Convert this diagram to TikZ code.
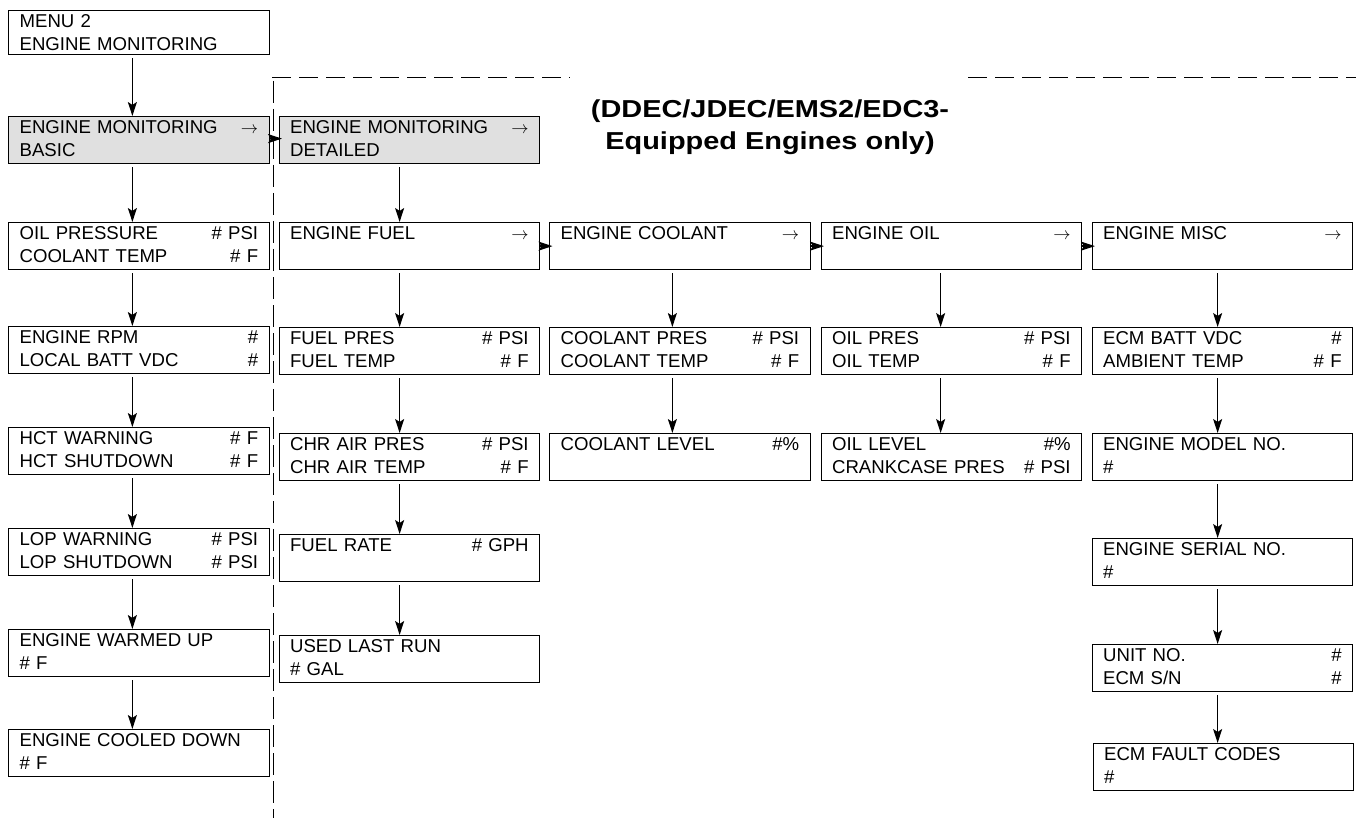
\documentclass[tikz,border=0pt]{standalone}
\usepackage{fontspec}
\setmainfont{Liberation Sans}
\newfontfamily\titlefont{Liberation Sans}[FakeStretch=1.18]
\usetikzlibrary{arrows.meta,calc}
\definecolor{boxgray}{gray}{0.88}
\begin{document}
\begin{tikzpicture}[x=1pt,y=-1pt,
  every node/.style={font=\fontsize{18.6}{22.7}\selectfont},
  box/.style={draw, line width=1.25pt, anchor=north west, text width=238.5pt,
    inner xsep=11pt, inner ysep=0pt, minimum height=47pt,
    text height=17pt, text depth=30pt, align=left},
  shaded/.style={box, fill=boxgray},
  arr/.style={line width=1.25pt, -{Stealth[length=14pt,width=9pt,inset=3pt]}},
  down/.style={arr, shorten <=3pt},
  side/.style={arr, shorten >=-3.5pt},
  sep/.style={line width=1pt, dash pattern=on 19pt off 8pt},
  vsep/.style={line width=1pt, dash pattern=on 22pt off 6pt}
]
\useasboundingbox (0,0) rectangle (1356,818);

% column 1
\node[box, minimum height=44pt, text height=16.7pt, text depth=27.3pt] (menu) at (8,10) {MENU 2\\ENGINE MONITORING};
\node[shaded] (basic) at (8,116) {ENGINE MONITORING\hfill$\rightarrow$\\BASIC};
\node[box] (oilp) at (8,222) {OIL PRESSURE\hfill\# PSI\\COOLANT TEMP\hfill\# F};
\node[box] (rpm) at (8,326) {ENGINE RPM\hfill\#\\LOCAL BATT VDC\hfill\#};
\node[box] (hct) at (8,427) {HCT WARNING\hfill\# F\\HCT SHUTDOWN\hfill\# F};
\node[box] (lop) at (8,528) {LOP WARNING\hfill\# PSI\\LOP SHUTDOWN\hfill\# PSI};
\node[box] (warm) at (8,629) {ENGINE WARMED UP\\\# F};
\node[box] (cooled) at (8,729) {ENGINE COOLED DOWN\\\# F};

% column 2
\node[shaded] (det) at (278.5,116) {ENGINE MONITORING\hfill$\rightarrow$\\DETAILED};
\node[box] (fuel) at (278.5,222) {ENGINE FUEL\hfill$\rightarrow$};
\node[box] (fpres) at (278.5,327) {FUEL PRES\hfill\# PSI\\FUEL TEMP\hfill\# F};
\node[box] (chr) at (278.5,433) {CHR AIR PRES\hfill\# PSI\\CHR AIR TEMP\hfill\# F};
\node[box] (frate) at (278.5,534) {FUEL RATE\hfill\# GPH};
\node[box] (used) at (278.5,635) {USED LAST RUN\\\# GAL};

% column 3
\node[box] (coolant) at (549,222) {ENGINE COOLANT\hfill$\rightarrow$};
\node[box] (cpres) at (549,327) {COOLANT PRES\hfill\# PSI\\COOLANT TEMP\hfill\# F};
\node[box] (clevel) at (549,433) {COOLANT LEVEL\hfill\#\%};

% column 4
\node[box] (oil) at (820.5,222) {ENGINE OIL\hfill$\rightarrow$};
\node[box] (opres) at (820.5,327) {OIL PRES\hfill\# PSI\\OIL TEMP\hfill\# F};
\node[box] (olevel) at (820.5,433) {OIL LEVEL\hfill\#\%\\CRANKCASE PRES\hfill\# PSI};

% column 5
\node[box] (misc) at (1091.5,222) {ENGINE MISC\hfill$\rightarrow$};
\node[box] (batt) at (1091.5,327) {ECM BATT VDC\hfill\#\\AMBIENT TEMP\hfill\# F};
\node[box] (model) at (1091.5,433) {ENGINE MODEL NO.\\\#};
\node[box] (serial) at (1091.5,538) {ENGINE SERIAL NO.\\\#};
\node[box] (unit) at (1091.5,644) {UNIT NO.\hfill\#\\ECM S/N\hfill\#};
\node[box] (fault) at (1092.5,743) {ECM FAULT CODES\\\#};

% title
\node[font=\titlefont\bfseries\fontsize{24.5}{32}\selectfont, align=center] (title) at (770,127.5)
  {(DDEC/JDEC/EMS2/EDC3-\\Equipped Engines only)};

% separators
\coordinate (sepA) at (272,78);
\coordinate (sepB) at (570,78);
\coordinate (sepC) at (968,78);
\coordinate (sepD) at (1356,78);
\coordinate (sepE) at (273,81);
\coordinate (sepF) at (273,818);
\draw[sep] (sepA) -- (sepB);
\draw[sep] (sepC) -- (sepD);
\draw[vsep] (sepE) -- (sepF);

% column 1 arrows
\foreach \a/\b in {menu/basic, basic/oilp, oilp/rpm, rpm/hct, hct/lop, lop/warm, warm/cooled}
  \draw[down] ([xshift=-6.5pt]\a.south) -- ([xshift=-6.5pt]\b.north);
% column 2 arrows
\foreach \a/\b in {det/fuel, fuel/fpres, fpres/chr, chr/frate, frate/used}
  \draw[down] ([xshift=-9.75pt]\a.south) -- ([xshift=-9.75pt]\b.north);
% column 3
\foreach \a/\b in {coolant/cpres, cpres/clevel}
  \draw[down] ([xshift=-7.5pt]\a.south) -- ([xshift=-7.5pt]\b.north);
% column 4
\foreach \a/\b in {oil/opres, opres/olevel}
  \draw[down] ([xshift=-10.75pt]\a.south) -- ([xshift=-10.75pt]\b.north);
% column 5
\foreach \a/\b in {misc/batt, batt/model, model/serial, serial/unit}
  \draw[down] ([xshift=-4.75pt]\a.south) -- ([xshift=-4.75pt]\b.north);
\draw[down] ([xshift=-4.75pt]unit.south) -- ([xshift=-5.75pt]fault.north);

% horizontal arrows
\draw[side] ([yshift=1.5pt]basic.east) -- ([yshift=1.5pt]det.west);
\draw[side] (fuel.east) -- (coolant.west);
\draw[side] (coolant.east) -- (oil.west);
\draw[side] (oil.east) -- (misc.west);
\end{tikzpicture}
\end{document}
